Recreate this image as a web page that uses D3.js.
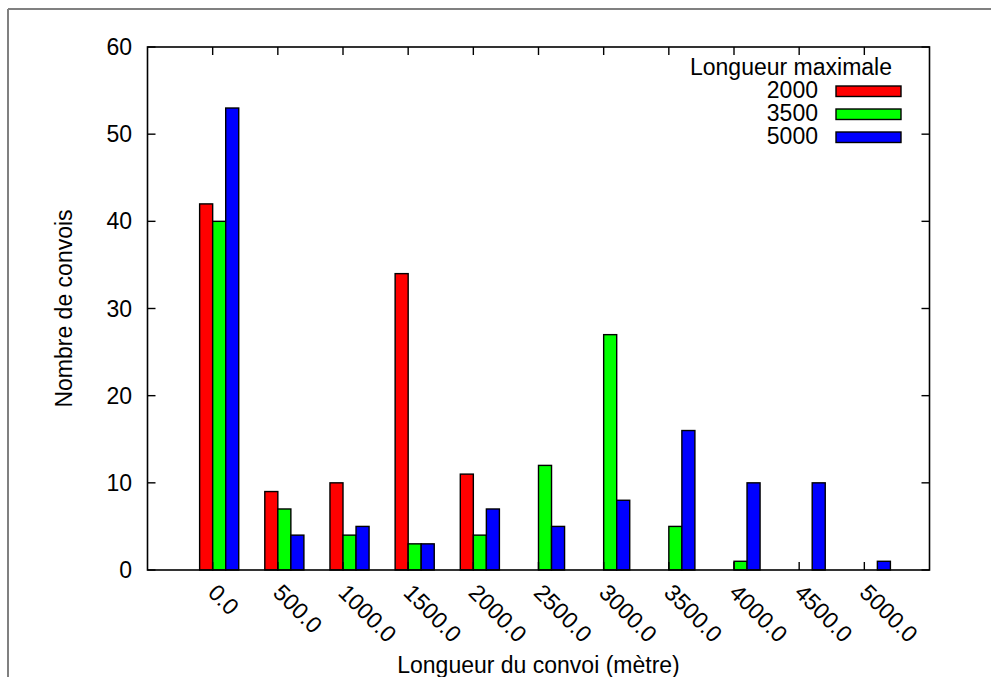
<!DOCTYPE html>
<html>
<head>
<meta charset="utf-8">
<script src="https://cdn.jsdelivr.net/npm/d3@7/dist/d3.min.js"></script>
<style>
  html, body { margin: 0; padding: 0; background: #fff; }
  svg { display: block; font-family: "Liberation Sans", Arial, Helvetica, sans-serif; }
</style>
</head>
<body>
<svg id="chart" width="991" height="677"></svg>
<script>
const categories = ["0.0", "500.0", "1000.0", "1500.0", "2000.0", "2500.0", "3000.0", "3500.0", "4000.0", "4500.0", "5000.0"];
const seriesNames = ["2000", "3500", "5000"];
const values2000 = [42, 9, 10, 34, 11, 0, 0, 0, 0, 0, 0];
const values3500 = [40, 7, 4, 3, 4, 12, 27, 5, 1, 0, 0];
const values5000 = [53, 4, 5, 3, 7, 5, 8, 16, 10, 10, 1];
const yTicks = [0, 10, 20, 30, 40, 50, 60];
const colors = ["#ff0000", "#00ff00", "#0000ff"];
const legendTitle = "Longueur maximale";
const xTitle = "Longueur du convoi (mètre)";
const yTitle = "Nombre de convois";

const series = [values2000, values3500, values5000];

const svg = d3.select("#chart");
const L = 147.5, R = 929.5, T = 47, B = 570;
const fs = 23;

// outer border (top and left only, as cropped)
svg.append("line").attr("x1", 8).attr("y1", 9).attr("x2", 991).attr("y2", 9)
  .attr("stroke", "#808080").attr("stroke-width", 2);
svg.append("line").attr("x1", 8).attr("y1", 9).attr("x2", 8).attr("y2", 677)
  .attr("stroke", "#808080").attr("stroke-width", 2);

const x = d3.scaleLinear().domain([-1, 11]).range([L, R]);
const y = d3.scaleLinear().domain([0, 60]).range([B, T]);
const barW = 0.2;

// bars
series.forEach((vals, s) => {
  svg.append("g").selectAll("rect").data(vals).join("rect")
    .attr("x", (d, i) => x(i + (s - 1) * barW))
    .attr("width", x(barW) - x(0))
    .attr("y", d => y(d))
    .attr("height", d => y(0) - y(d))
    .attr("fill", colors[s])
    .attr("stroke", "#000")
    .attr("stroke-width", 1.4);
});

// frame
svg.append("rect").attr("x", L).attr("y", T).attr("width", R - L).attr("height", B - T)
  .attr("fill", "none").attr("stroke", "#000").attr("stroke-width", 1.6);

// y ticks (inward, mirrored)
const tl = 8;
yTicks.forEach(t => {
  svg.append("line").attr("x1", L).attr("x2", L + tl).attr("y1", y(t)).attr("y2", y(t))
    .attr("stroke", "#000").attr("stroke-width", 1.4);
  svg.append("line").attr("x1", R).attr("x2", R - tl).attr("y1", y(t)).attr("y2", y(t))
    .attr("stroke", "#000").attr("stroke-width", 1.4);
  svg.append("text").attr("x", 132).attr("y", y(t)).attr("dy", "0.35em")
    .attr("text-anchor", "end").attr("font-size", fs).attr("fill", "#000").text(t);
});

// x ticks (inward, mirrored) and rotated labels
categories.forEach((c, i) => {
  const px = x(i);
  svg.append("line").attr("x1", px).attr("x2", px).attr("y1", B).attr("y2", B - tl)
    .attr("stroke", "#000").attr("stroke-width", 1.4);
  svg.append("line").attr("x1", px).attr("x2", px).attr("y1", T).attr("y2", T + tl)
    .attr("stroke", "#000").attr("stroke-width", 1.4);
  svg.append("text")
    .attr("transform", `translate(${px - 6},${594}) rotate(45)`)
    .attr("text-anchor", "start").attr("font-size", fs).attr("fill", "#000").text(c);
});

// axis titles
svg.append("text").attr("x", (L + R) / 2).attr("y", 673).attr("text-anchor", "middle")
  .attr("font-size", fs).attr("fill", "#000").text(xTitle);
svg.append("text").attr("transform", `translate(72,${(T + B) / 2}) rotate(-90)`)
  .attr("text-anchor", "middle").attr("font-size", fs).attr("fill", "#000").text(yTitle);

// legend
svg.append("text").attr("x", 892).attr("y", 75).attr("text-anchor", "end")
  .attr("font-size", fs).attr("fill", "#000").text(legendTitle);
seriesNames.forEach((n, s) => {
  const by = 98 + s * 23;
  svg.append("text").attr("x", 818).attr("y", by).attr("text-anchor", "end")
    .attr("font-size", fs).attr("fill", "#000").text(n);
  svg.append("rect").attr("x", 836).attr("y", by - 12).attr("width", 65).attr("height", 10.5)
    .attr("fill", colors[s]).attr("stroke", "#000").attr("stroke-width", 1.4);
});
</script>
</body>
</html>
